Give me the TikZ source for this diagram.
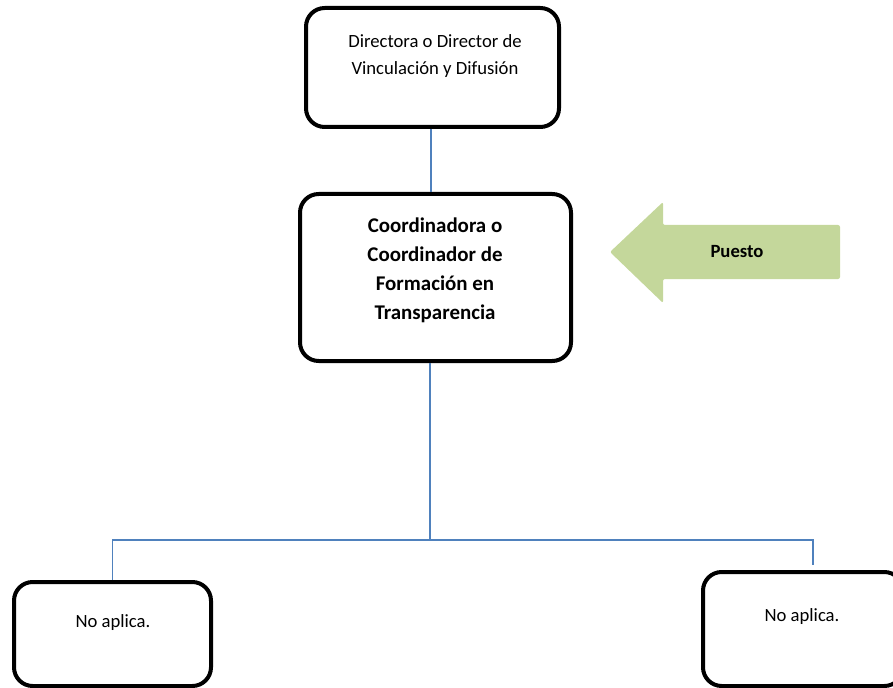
\documentclass[tikz,border=0pt]{standalone}
\usepackage{fontspec}
\setmainfont{Carlito}
\usepackage{xcolor}
\usetikzlibrary{calc}

\definecolor{linkblue}{HTML}{4F81BD}
\definecolor{tagreen}{HTML}{C4D79B}

\tikzset{
	orgbox/.style={draw=black, line width=3pt, rounded corners=14pt, inner sep=0pt},
	orgtext/.style={align=center, inner sep=0pt},
	link/.style={draw=linkblue, line width=0.9pt}
}

\begin{document}
\begin{tikzpicture}[x=0.75pt, y=-0.75pt]
		% page frame (pixels of the reference)
		\useasboundingbox (0,0) rectangle (893,688);
		
		% Top box
		\node[orgbox, minimum width=253*0.75pt, minimum height=119*0.75pt] (director) at (432.5,67.5) {};
		\node[orgtext, font=\fontsize{14}{20.3}\selectfont] (directortxt) at (435,56)
		{Directora o Director de\\Vinculación y Difusión};
		
		% Position box
		\node[orgbox, minimum width=271*0.75pt, minimum height=167*0.75pt] (coord) at (435.5,277.5) {};
		\node[orgtext, font=\fontsize{15.7}{21.7}\selectfont\bfseries] (coordtxt) at (435,270)
		{Coordinadora o\\Coordinador de\\Formación en\\Transparencia};
		
		% Lower boxes (cut by the page edge)
		\node[orgbox, minimum width=197*0.75pt, minimum height=104*0.75pt] (leftbox) at (112.5,634) {};
		\node[orgtext, font=\fontsize{14}{16}\selectfont] (lefttxt) at (113,623) {No aplica.};
		\node[orgbox, minimum width=200*0.75pt, minimum height=114*0.75pt] (rightbox) at (803,629) {};
		\node[orgtext, font=\fontsize{14}{16}\selectfont] (righttxt) at (802,617) {No aplica.};
		
		% "Puesto" arrow
		\fill[tagreen, rounded corners=1.5pt] (610,252) -- (663,202) -- (663,225) -- (840,225)
		-- (840,279) -- (663,279) -- (663,303) -- cycle;
		\node[orgtext, font=\fontsize{14}{16}\selectfont\bfseries] (puesto) at (737,252) {Puesto};
		
		% Connectors
		\coordinate (split) at (430,540);
		\coordinate (rightend) at (813,565);
		\draw[link] (director.south -| 431,0) -- (coord.north -| 431,0);
		\draw[link] (coord.south -| split) -- (split);
		\draw[link] (split) -| (leftbox.north);
		\draw[link] (split) -| (rightend);
	\end{tikzpicture}
\end{document}
